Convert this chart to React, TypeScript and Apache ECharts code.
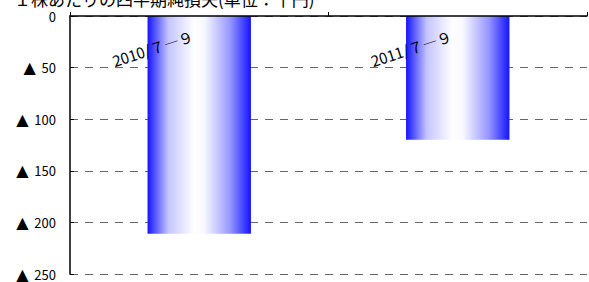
import React, { useEffect, useRef } from "react";
import * as echarts from "echarts";

const titleText = "１株あたりの四半期純損失(単位：千円)";
const categories = ["2010/７―９", "2011/７―９"];
const lossValues = [211, 120];
const yTicks = { min: 0, max: 250, interval: 50 };

export default function App() {
  const ref = useRef<HTMLDivElement>(null);
  useEffect(() => {
    if (!ref.current) return;
    const chart = echarts.init(ref.current, null, { renderer: "svg" });
    const font = "'Noto Sans CJK JP', sans-serif";
    chart.setOption({
      animation: false,
      textStyle: { fontFamily: font },
      title: {
        text: titleText,
        left: 9,
        top: -15,
        textStyle: { fontSize: 17, fontWeight: "normal", color: "#000", fontFamily: font },
      },
      grid: { left: 70, top: 16, right: 2, bottom: 7 },
      xAxis: {
        type: "category",
        data: categories,
        position: "top",
        z: 10,
        axisLine: { show: true, lineStyle: { color: "#000", width: 1.5 } },
        axisTick: { show: true, length: 4, lineStyle: { color: "#000" } },
        axisLabel: {
          inside: true,
          rotate: 18,
          margin: 17,
          align: "right",
          padding: [0, 7, 0, 0],
          color: "#000",
          fontSize: 15,
          fontFamily: font,
        },
        splitLine: { show: false },
      },
      yAxis: {
        type: "value",
        inverse: true,
        min: yTicks.min,
        max: yTicks.max,
        interval: yTicks.interval,
        axisLine: { show: true, lineStyle: { color: "#000", width: 1.5 } },
        axisTick: { show: true, inside: true, length: 4, lineStyle: { color: "#000" } },
        axisLabel: {
          color: "#000",
          fontSize: 13,
          lineHeight: 13,
          margin: 14,
          fontFamily: font,
          formatter: (v: number) => (v === 0 ? "0" : "{t|▲}  " + v),
          rich: {
            t: { fontSize: 16, lineHeight: 13, color: "#000", fontFamily: "'DejaVu Sans', sans-serif" },
          },
        },
        splitLine: {
          show: true,
          lineStyle: { color: "#666", type: [8, 7], width: 1 },
        },
      },
      series: [
        {
          type: "bar",
          data: lossValues,
          barWidth: "40%",
          itemStyle: {
            color: new echarts.graphic.LinearGradient(0, 0, 1, 0, [
              { offset: 0, color: "#1414ff" },
              { offset: 0.2, color: "#c4c4ff" },
              { offset: 0.45, color: "#ffffff" },
              { offset: 0.55, color: "#f8f8ff" },
              { offset: 0.8, color: "#9696ff" },
              { offset: 1, color: "#1414ff" },
            ]),
          },
        },
      ],
    });
    return () => chart.dispose();
  }, []);
  return <div ref={ref} style={{ width: 589, height: 282, position: "absolute", left: 0, top: 0 }} />;
}
